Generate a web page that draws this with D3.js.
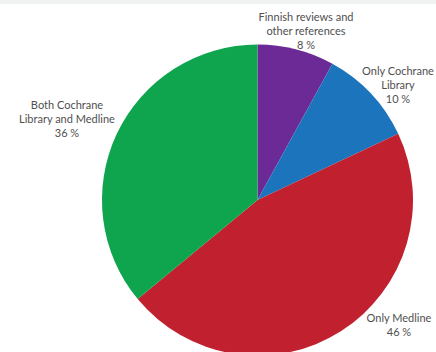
<!DOCTYPE html>
<html><head><meta charset="utf-8">
<script src="https://cdn.jsdelivr.net/npm/d3@7"></script>
<style>html,body{margin:0;padding:0;background:#fff;overflow:hidden}</style>
</head><body>
<svg id="chart" width="436" height="352"></svg>
<script>
const categories = ["Finnish reviews and other references", "Only Cochrane Library", "Only Medline", "Both Cochrane Library and Medline"];
const values = [8, 10, 46, 36];
const labelLines = [
  ["Finnish reviews and", "other references", "8 %"],
  ["Only Cochrane", "Library", "10 %"],
  ["Only Medline", "46 %"],
  ["Both Cochrane", "Library and Medline", "36 %"]
];
const colors = ["#6b2a96", "#1c75bc", "#c1202f", "#0ea54e"];

const svg = d3.select("#chart");
svg.append("rect").attr("x",0).attr("y",0).attr("width",436).attr("height",4).attr("fill","#f0f1f1");

const cx = 257.5, cy = 200, r = 155.5;
const pie = d3.pie().sort(null).value(d => d)(values);
const arc = d3.arc().innerRadius(0).outerRadius(r);
const g = svg.append("g").attr("transform", `translate(${cx},${cy})`);
g.selectAll("path").data(pie).join("path")
  .attr("d", arc)
  .attr("fill", (d,i) => colors[i]);

// label anchor positions (centre x, first line baseline y)
const labelPos = [[306, 21], [398, 75], [399, 322], [67, 109]];
const lh = 14;
labelLines.forEach((lines, i) => {
  const t = svg.append("text")
    .attr("text-anchor", "middle")
    .attr("font-family", "Lato, 'Open Sans', sans-serif")
    .attr("font-size", 11)
    .attr("fill", "#505050");
  lines.forEach((ln, j) => {
    t.append("tspan").attr("x", labelPos[i][0]).attr("y", labelPos[i][1] + j*lh).text(ln);
  });
});
</script>
</body></html>
